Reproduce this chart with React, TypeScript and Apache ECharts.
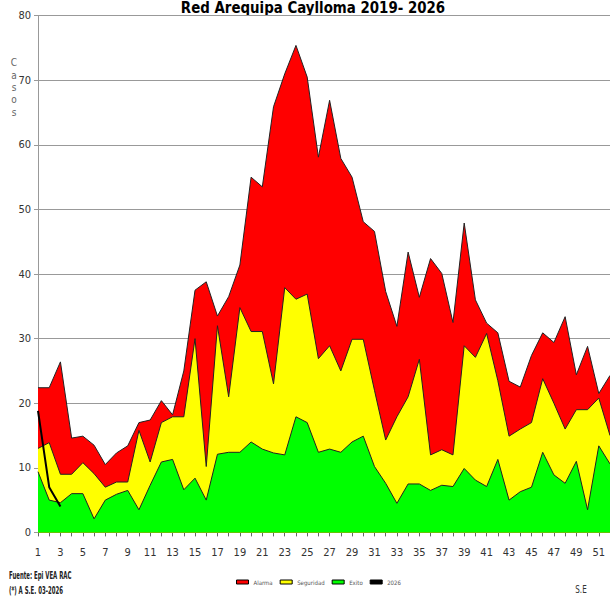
import React, { useEffect, useRef } from 'react';
import * as echarts from 'echarts';

const weeks = [
  '1', '2', '3', '4', '5', '6', '7', '8', '9', '10', '11', '12', '13',
  '14', '15', '16', '17', '18', '19', '20', '21', '22', '23', '24', '25', '26',
  '27', '28', '29', '30', '31', '32', '33', '34', '35', '36', '37', '38', '39',
  '40', '41', '42', '43', '44', '45', '46', '47', '48', '49', '50', '51', '52',
];

const alarma = [
  22.4, 22.4, 26.4, 14.6, 14.9, 13.5, 10.5, 12.3, 13.4, 17.0, 17.4, 20.4, 18.2,
  25.0, 37.5, 38.8, 33.5, 36.5, 41.4, 55.0, 53.5, 65.9, 71.0, 75.4, 70.5, 58.1,
  66.9, 57.9, 55.0, 48.1, 46.6, 37.3, 31.9, 43.4, 36.4, 42.4, 40.1, 32.5, 47.9,
  36.0, 32.4, 30.9, 23.4, 22.5, 27.4, 30.9, 29.4, 33.4, 24.4, 28.8, 21.5, 24.3,
];

const seguridad = [
  13.0, 13.9, 9.0, 9.0, 10.8, 9.1, 7.0, 7.8, 7.8, 15.8, 10.9, 17.0, 17.9,
  17.9, 30.0, 10.2, 32.0, 21.0, 34.8, 31.1, 31.1, 23.0, 37.9, 36.1, 36.9, 26.9,
  28.9, 25.0, 29.9, 29.9, 22.0, 14.3, 17.9, 21.0, 26.8, 12.0, 12.8, 12.0, 28.9,
  27.1, 30.8, 23.5, 14.9, 16.0, 17.0, 23.8, 20.0, 16.0, 19.0, 19.0, 20.8, 15.0,
];

const exito = [
  9.4, 5.0, 4.6, 6.0, 6.0, 2.1, 5.0, 5.9, 6.5, 3.5, 7.3, 10.9, 11.3,
  6.6, 8.4, 5.0, 12.1, 12.4, 12.4, 14.0, 12.9, 12.3, 12.0, 17.9, 17.0, 12.4,
  12.9, 12.4, 14.0, 14.9, 10.2, 7.6, 4.5, 7.5, 7.5, 6.5, 7.3, 7.1, 9.9,
  8.1, 7.1, 11.3, 5.0, 6.3, 7.0, 12.4, 8.9, 7.6, 11.0, 3.5, 13.4, 10.6,
];

const casos2026 = [18.8, 7.0, 4.0];

const FONT = "'Liberation Sans Narrow', 'DejaVu Sans Condensed', 'Arial Narrow', sans-serif";

export default function App() {
  const ref = useRef<HTMLDivElement>(null);

  useEffect(() => {
    const chart = echarts.init(ref.current!, null, { renderer: 'svg' });
    const outline = { color: '#222', width: 1 };
    chart.setOption({
      animation: false,
      backgroundColor: '#fff',
      grid: { left: 38, right: 0, top: 15.7, bottom: 64.6, outerBoundsMode: 'none' },
      xAxis: {
        type: 'category',
        data: weeks,
        boundaryGap: false,
        axisLine: { lineStyle: { color: '#222', width: 1 } },
        axisTick: { show: true, interval: 0, length: 4, lineStyle: { color: '#666' } },
        axisLabel: { interval: 1, margin: 15, fontSize: 11, fontFamily: FONT, color: '#333' },
        splitLine: { show: false },
      },
      yAxis: {
        type: 'value',
        min: 0,
        max: 80,
        interval: 10,
        axisLine: { show: true, lineStyle: { color: '#999' } },
        axisTick: { show: true, length: 4, lineStyle: { color: '#999' } },
        axisLabel: { margin: 7, fontSize: 11, fontFamily: FONT, color: '#333' },
        splitLine: { lineStyle: { color: '#999', width: 1 } },
      },
      legend: {
        left: 236,
        top: 579,
        padding: 0,
        itemWidth: 12,
        itemHeight: 4,
        itemGap: 7,
        textStyle: { fontSize: 6, color: '#555', fontFamily: FONT },
        itemStyle: { borderColor: '#000', borderWidth: 1 },
        data: [
          { name: 'Alarma', icon: 'rect' },
          { name: 'Seguridad', icon: 'rect' },
          { name: 'Exito', icon: 'rect' },
          { name: '2026', icon: 'rect' },
        ],
      },
      series: [
        {
          name: 'Alarma', type: 'line', data: alarma, symbol: 'none', color: '#ff0000',
          lineStyle: outline, areaStyle: { color: '#ff0000', opacity: 1 },
        },
        {
          name: 'Seguridad', type: 'line', data: seguridad, symbol: 'none', color: '#ffff00',
          lineStyle: outline, areaStyle: { color: '#ffff00', opacity: 1 },
        },
        {
          name: 'Exito', type: 'line', data: exito, symbol: 'none', color: '#00ff00',
          lineStyle: outline, areaStyle: { color: '#00ff00', opacity: 1 },
        },
        {
          name: '2026', type: 'line', data: casos2026, symbol: 'none', color: '#000',
          lineStyle: { color: '#000', width: 2 },
        },
      ],
      graphic: [
        {
          type: 'text', x: 313, y: 8, scaleX: 0.93,
          style: { text: 'Red Arequipa Caylloma 2019- 2026', align: 'center', verticalAlign: 'middle', fontSize: 16, fontWeight: 'bold', fontFamily: FONT, fill: '#000' },
        },
        {
          type: 'text', x: 14, y: 87.5,
          style: { text: 'C\na\ns\no\ns', align: 'center', verticalAlign: 'middle', lineHeight: 12.3, fontSize: 10, fontFamily: FONT, fill: '#666' },
        },
        {
          type: 'text', x: 9, y: 575, scaleX: 0.6,
          style: { text: 'Fuente: Epi VEA RAC', align: 'left', verticalAlign: 'middle', fontSize: 10, fontWeight: 'bold', fontFamily: FONT, fill: '#222' },
        },
        {
          type: 'text', x: 9, y: 590, scaleX: 0.6,
          style: { text: '(*) A S.E. 03-2026', align: 'left', verticalAlign: 'middle', fontSize: 10, fontWeight: 'bold', fontFamily: FONT, fill: '#222' },
        },
        {
          type: 'text', x: 581, y: 590, scaleX: 0.8,
          style: { text: 'S.E', align: 'center', verticalAlign: 'middle', fontSize: 10, fontFamily: FONT, fill: '#333' },
        },
      ],
    });
    return () => chart.dispose();
  }, []);

  return (
    <div
      ref={ref}
      style={{ position: 'fixed', left: 0, top: 0, width: 610, height: 597, background: '#fff' }}
    />
  );
}
